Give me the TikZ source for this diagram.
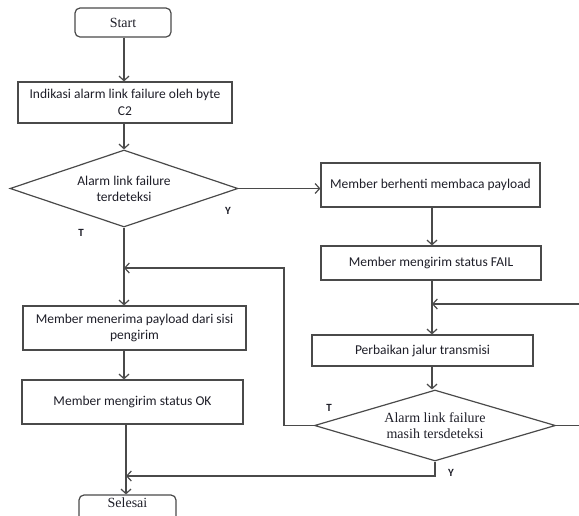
\documentclass[tikz,border=0pt]{standalone}
\usepackage{fontspec}
\setmainfont{Carlito}
\newfontfamily\timesf{Liberation Serif}
\usetikzlibrary{shapes.geometric,arrows.meta}
\definecolor{linec}{HTML}{4A4A4A}
\definecolor{txtc}{HTML}{1E1E28}
\tikzset{
  base/.style={draw=linec, line width=1.2pt, text=txtc, inner sep=2pt, align=center},
  procbox/.style={base, rectangle, font=\fontsize{13.5}{16.5}\selectfont},
  termbox/.style={base, rectangle, rounded corners=5pt, font=\timesf\fontsize{14}{16}\selectfont},
  decide/.style={base, diamond, aspect=3, inner sep=0pt},
  flow/.style={draw=linec, line width=1.2pt, -{Straight Barb[length=4.5pt,width=10pt,line width=1.2pt]}},
  lbl/.style={text=txtc, font=\bfseries\fontsize{11}{12}\selectfont, inner sep=0pt}
}
\begin{document}
\begin{tikzpicture}[x=1pt,y=-1pt]
\useasboundingbox (0,0) rectangle (579,515);
\clip (0,0) rectangle (579,515);

% left column
\node[termbox, minimum width=96pt, minimum height=29pt] (start) at (123,22.5) {Start};
\node[procbox, minimum width=214pt, minimum height=41pt] (ind) at (125,102.5)
  {Indikasi alarm link failure oleh byte\\C2};
\node[decide, minimum width=228pt, minimum height=77pt, font=\fontsize{13.5}{16}\selectfont] (d1) at (124,188.5)
  {Alarm link failure\\terdeteksi};
\node[procbox, minimum width=223pt, minimum height=44pt] (terima) at (134.5,328)
  {Member menerima payload dari sisi\\pengirim};
\node[procbox, minimum width=221pt, minimum height=44pt] (ok) at (132.5,402)
  {Member mengirim status OK};
\node[termbox, minimum width=97pt, minimum height=30pt,
      label={[anchor=north, text=txtc, font=\timesf\fontsize{14}{16}\selectfont, inner sep=0pt, yshift=-3.5pt]north:Selesai}]
  (selesai) at (127.5,510) {};

% right column
\node[procbox, minimum width=219pt, minimum height=44pt] (henti) at (430.5,185)
  {Member berhenti membaca payload};
\node[procbox, minimum width=220pt, minimum height=34pt] (fail) at (431,263)
  {Member mengirim status FAIL};
\node[procbox, minimum width=221pt, minimum height=31pt] (perb) at (422.5,350.5)
  {Perbaikan jalur transmisi};
\node[decide, minimum width=241pt, minimum height=71pt, font=\timesf\fontsize{14}{16}\selectfont] (d2) at (435,425.5)
  {Alarm link failure\\masih tersdeteksi};

% junction points
\coordinate (colL) at (124,0);
\coordinate (colR) at (432,0);
\coordinate (loopT) at (284,268);
\coordinate (loopY) at (126,476);
\coordinate (retR) at (595,304);

% main flow
\draw[flow] (start.south -| colL) -- (ind.north -| colL);
\draw[flow] (ind.south -| colL) -- (d1.north);
\draw[flow] (d1.east) -- (d1.east -| henti.west);
\draw[flow] (d1.south) -- (terima.north -| colL);
\draw[flow] (terima.south -| colL) -- (ok.north -| colL);
\draw[flow] (ok.south -| loopY) -- (selesai.north -| loopY);

\draw[flow] (henti.south -| colR) -- (fail.north -| colR);
\draw[flow] (fail.south -| colR) -- (perb.north -| colR);
\draw[flow] (perb.south -| colR) -- (d2.north -| colR);

% decision branches
\draw[flow] (d2.west) -| (loopT) -- (loopT -| colL);
\draw[flow] (d2.south) |- (loopY);
\draw[flow] (d2.east) -- (d2.east -| retR) -- (retR) -- (retR -| colR);

% branch labels
\node[lbl] (t1) at (81,233) {T};
\node[lbl] (y1) at (228,211) {Y};
\node[lbl] (t2) at (329,408) {T};
\node[lbl] (y2) at (451,473) {Y};
\end{tikzpicture}
\end{document}
